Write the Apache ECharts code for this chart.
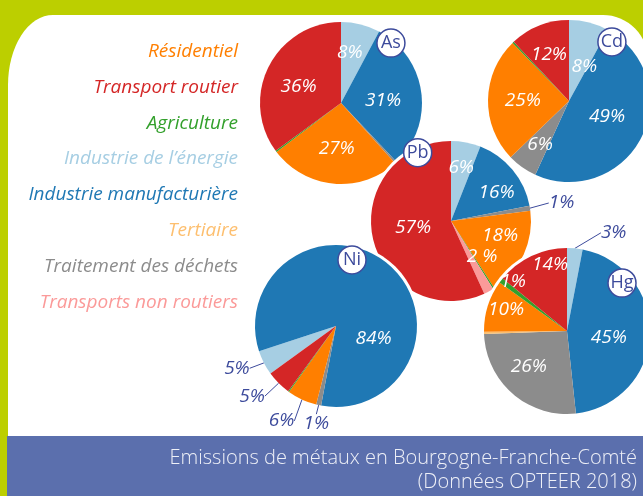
<!DOCTYPE html>
<html>
<head>
<meta charset="utf-8">
<script src="https://cdn.jsdelivr.net/npm/echarts@6/dist/echarts.min.js"></script>
<style>
  html, body { margin: 0; padding: 0; width: 643px; height: 496px; overflow: hidden; background: #bccf00; }
  #panel { position: absolute; left: 8px; top: 15px; width: 640px; height: 421px; background: #fff;
           border-top-left-radius: 45px 70px; border-top-right-radius: 45px; }
  #banner { position: absolute; left: 7px; top: 436px; width: 636px; height: 60px; background: #5b6fad; }
  #chart { position: absolute; left: 0; top: 0; width: 643px; height: 496px; }
</style>
</head>
<body>
<div id="panel"></div>
<div id="banner"></div>
<div id="chart"></div>
<script>
// Emission sectors (legend order) and their colours
const sectors = ['Résidentiel', 'Transport routier', 'Agriculture', 'Industrie de l’énergie',
  'Industrie manufacturière', 'Tertiaire', 'Traitement des déchets', 'Transports non routiers'];
const sectorColors = ['#ff7f00', '#d42626', '#33a02c', '#a6cee3', '#1f78b4', '#fdbf6f', '#8c8c8c', '#fb9a99'];

// Share of each sector in the emissions of each metal, in %, same order as `sectors`
const metals = ['As', 'Cd', 'Pb', 'Ni', 'Hg'];
const asShares = [27, 36, 0.3, 8, 31, 0, 0.4, 0];
const cdShares = [25, 12, 0.3, 8, 49, 0, 6, 0];
const pbShares = [18, 57, 0.3, 6, 16, 0, 1, 2];
const niShares = [6, 5, 0.2, 5, 84, 0, 1, 0];
const hgShares = [10, 14, 1, 3, 45, 0.4, 26, 0];

const titleLines = ['Emissions de métaux en Bourgogne-Franche-Comté', '(Données OPTEER 2018)'];

const shares = { As: asShares, Cd: cdShares, Pb: pbShares, Ni: niShares, Hg: hgShares };

// Slices go clockwise in this sector order
const drawOrder = [3, 4, 6, 5, 0, 2, 7, 1];

// Pie placement: centre, radius, first slice angle (degrees clockwise from 12 o'clock)
const pieGeom = {
  As: { center: [341, 103], r: 81, turn: 0 },
  Cd: { center: [569, 101], r: 81, turn: 0 },
  Pb: { center: [451, 221], r: 80, turn: 0 },
  Ni: { center: [336, 326], r: 81, turn: 234 },
  Hg: { center: [567, 331], r: 83, turn: 0 }
};
// Label spot per sector: [distance as fraction of radius, angle shift in degrees]
const labelSpots = {
  As: { 3: [0.63, -4], 4: [0.52, 4], 0: [0.56, 0], 1: [0.56, -6] },
  Cd: { 3: [0.46, 10], 4: [0.51, -4], 6: [0.65, -2], 0: [0.57, 0], 1: [0.62, -2] },
  Pb: { 3: [0.68, 0], 4: [0.67, 8], 6: [1.4, 0], 0: [0.64, -8], 7: [0.59, -13], 1: [0.48, 3] },
  Ni: { 3: [1.33, 4], 4: [0.49, 68], 6: [1.23, -1], 0: [1.35, 5], 1: [1.35, 5] },
  Hg: { 3: [1.31, 20], 4: [0.51, 7], 6: [0.63, 6], 0: [0.78, 2], 2: [0.88, 5], 1: [0.82, 11] }
};
const outsideLabels = { Pb: [6], Hg: [3], Ni: [3, 1, 0, 6] };
const labelFormats = { Pb: { 7: '{c} %' } };
// Badge spot around each pie: [angle clockwise from 12 o'clock, distance]
const badgeSpots = { As: [39.8, 78], Cd: [36, 73], Pb: [-26, 76], Ni: [13.6, 68], Hg: [48.9, 73] };

const ink = '#3d4b9c';
const fontFamily = "'Open Sans', 'Noto Sans', sans-serif";

function polar(center, angleDeg, dist) {
  const a = angleDeg * Math.PI / 180;
  return [center[0] + dist * Math.sin(a), center[1] - dist * Math.cos(a)];
}

function buildSeries(metal, idx) {
  const g = pieGeom[metal];
  const vals = shares[metal];
  const items = drawOrder.filter(k => vals[k] > 0).map(k => ({ k: k, v: vals[k] }));
  const total = items.reduce((s, it) => s + it.v, 0);
  let acc = 0;
  const spots = items.map(it => {
    const a0 = acc / total * 360;
    acc += it.v;
    const a1 = acc / total * 360;
    const tw = (labelSpots[metal] || {})[it.k] || [0.55, 0];
    return { angle: g.turn + (a0 + a1) / 2 + tw[1], dist: tw[0] * g.r };
  });
  const outs = outsideLabels[metal] || [];
  const data = items.map(it => {
    const outside = outs.indexOf(it.k) >= 0;
    return {
      name: sectors[it.k],
      value: it.v,
      itemStyle: { color: sectorColors[it.k] },
      label: {
        show: it.v >= 1,
        position: outside ? 'outside' : 'inside',
        color: outside ? ink : '#ffffff',
        formatter: (labelFormats[metal] && labelFormats[metal][it.k]) || '{c}%'
      },
      labelLine: { show: outside }
    };
  });
  return [
    {
      // white rim under the pie, separating it from the pies below
      type: 'pie', name: metal + ' rim', silent: true, z: 2 + idx * 2,
      center: g.center, radius: g.r + 3, animation: false,
      label: { show: false }, labelLine: { show: false }, emphasis: { disabled: true },
      data: [{ value: 1, itemStyle: { color: '#ffffff' } }]
    },
    {
      type: 'pie', name: metal, z: 3 + idx * 2,
      center: g.center, radius: g.r, startAngle: 90 - g.turn, clockwise: true,
      avoidLabelOverlap: false, animation: false,
      emphasis: { disabled: true },
      label: { fontFamily: fontFamily, fontStyle: 'italic', fontSize: 19 },
      labelLine: { length: 6, length2: 0, smooth: false, lineStyle: { color: ink, width: 1 } },
      labelLayout: function (p) {
        const s = spots[p.dataIndex];
        const pt = polar(g.center, s.angle, s.dist);
        return { x: pt[0], y: pt[1], align: 'center', verticalAlign: 'middle' };
      },
      data: data
    }
  ];
}

const series = [];
metals.forEach((m, i) => { buildSeries(m, i).forEach(s => series.push(s)); });

const elements = [];
// sector legend, right aligned
sectors.forEach((s, i) => {
  elements.push({
    type: 'text', x: 238, y: 51.5 + i * 35.8, z: 50,
    style: { text: s, fill: sectorColors[i], font: "italic 19px " + fontFamily, align: 'right', verticalAlign: 'middle' }
  });
});
// title in the banner
titleLines.forEach((t, i) => {
  elements.push({
    type: 'text', x: 637, y: 458 + i * 24, z: 50,
    style: { text: t, fill: '#eef0f7', font: "300 20px " + fontFamily, align: 'right', verticalAlign: 'middle' }
  });
});
// metal badges
metals.forEach(m => {
  const pt = polar(pieGeom[m].center, badgeSpots[m][0], badgeSpots[m][1]);
  elements.push({
    type: 'group', x: pt[0], y: pt[1],
    children: [
      { type: 'circle', z: 100, shape: { cx: 0, cy: 0, r: 14 }, style: { fill: '#ffffff', stroke: ink, lineWidth: 1.5 } },
      { type: 'text', z: 101, x: 0, y: 0, style: { text: m, fill: ink, font: "18px " + fontFamily, align: 'center', verticalAlign: 'middle' } }
    ]
  });
});

const chart = echarts.init(document.getElementById('chart'));
chart.setOption({
  animation: false,
  graphic: { z: 100, elements: elements },
  series: series
});
</script>
</body>
</html>
